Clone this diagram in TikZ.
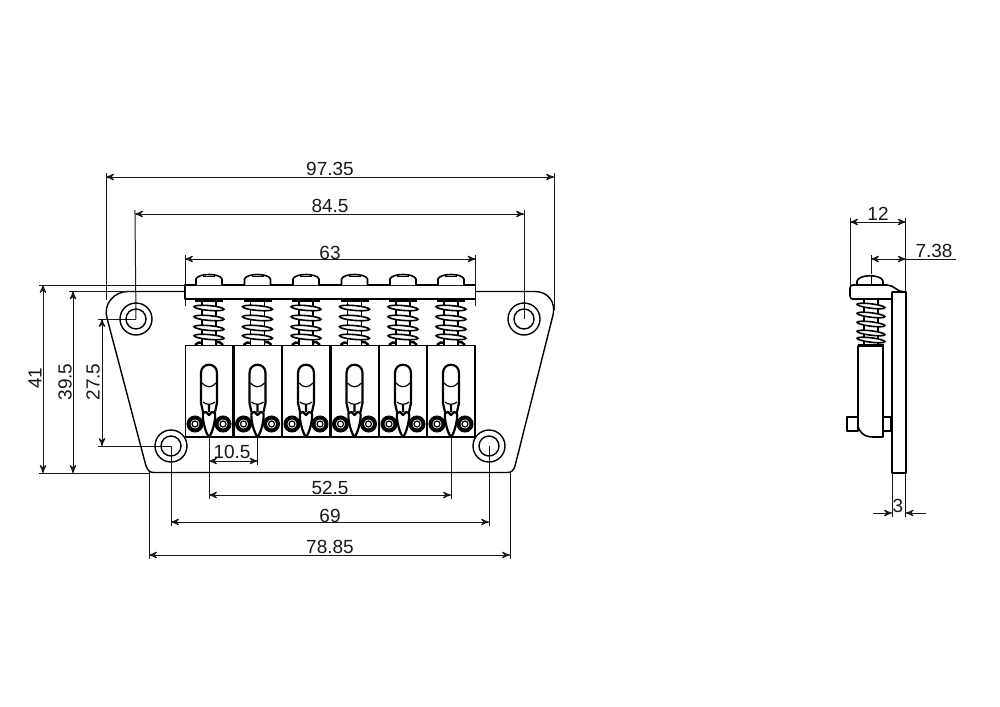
\documentclass[tikz,border=0pt]{standalone}
\usepackage{fontspec}
\setmainfont{Liberation Sans}
\usetikzlibrary{
        arrows,
        positioning
    }
\tikzset{>=stealth',x=0.5pt,y=-0.5pt}
\tikzset{part/.style={line width=0.8pt,line join=round,fill=white}}
\tikzset{thickpart/.style={line width=1.1pt,line join=round}}
\tikzset{dimline/.style={<->,line width=0.5pt,black!90}}
\tikzset{extline/.style={line width=0.5pt,black!90,shorten <=-2pt}}
\tikzset{dimlabel/.style={inner sep=0pt,font=\fontsize{9.5}{11}\selectfont,black!90}}
\tikzset{coil/.style={line width=0.8pt,fill=white}}

\begin{document}
\begin{tikzpicture}
        \useasboundingbox (0,0) rectangle (1000,706);
        % front view, plate and mounting holes
        \coordinate (holeTL) at (136,319);
        \coordinate (holeTR) at (524,319);
        \coordinate (holeBL) at (171,446);
        \coordinate (holeBR) at (489,446);
        \draw[part,line width=0.7pt] (128,291.5) -- (535,291.5) .. controls (548,291.5) and (556,302) .. (553,315)
            -- (515,466) .. controls (513.5,471) and (511,472.5) .. (507,472.5) -- (154,472.5)
            .. controls (150,472.5) and (148,471) .. (146,466) -- (107,318) .. controls (103,304) and (114,291.5) .. (128,291.5) -- cycle;
        \foreach \hole in {holeTL,holeTR,holeBL,holeBR}{
            \draw[line width=0.7pt] (\hole) circle[radius=16];
            \draw[line width=0.7pt] (\hole) circle[radius=10];
        }
        % bar
        \draw[part,line width=0.9pt] (185,285) rectangle (475.5,299);
        % six saddles
        \foreach \sx in {209,257.5,306,354.5,403,451}{
            \begin{scope}[shift={(\sx,0)}]
                % screw head
                \draw[part] (-13,285) -- (-13,279) .. controls (-11,273) and (11,273) .. (13,279) -- (13,285);
                \draw[line width=0.4pt] (-6,276) -- (6,276);
                % spring
                \draw[line width=0.6pt] (-7,300) -- (-7,345) (7,300) -- (7,345);
                \foreach \cy in {308,318,328,337}{
                    \draw[coil,rotate around={-5:(0,\cy)}] (0,\cy) ellipse[x radius=15,y radius=2.4];
                }
                \draw[line width=1.2pt] (-14,300.5) -- (14,300.5);
                \draw[line width=1.2pt] (-14,345) .. controls (-10,342) and (-10,342) .. (-7,343) (7,342) .. controls (10,341) and (12,343) .. (14,345);
                % saddle body
                \draw[part,fill=white] (-23.5,345.5) rectangle (24,437);
                % slot
                \draw[thickpart] (-8,403) -- (-8,373) .. controls (-8,362) and (8,362) .. (8,373) -- (8,403);
                \draw[line width=0.6pt] (-7,383) .. controls (-3,388) and (3,388) .. (7,383);
                \draw[line width=0.6pt] (-6,402) .. controls (-3,405) and (3,405) .. (6,402);
                \draw[thickpart] (-8,403) -- (-6,412) (8,403) -- (6,412) (0,404) -- (0,412);
                % spike
                \draw[thickpart,fill=white] (-6,413) -- (-3,412) -- (0,415) -- (3,412) -- (6,413) .. controls (7,420) and (3,434) .. (0,437) .. controls (-3,434) and (-7,420) .. (-6,413) -- cycle;
                % roller screws
                \foreach \rx in {-14,14}{
                    \draw[line width=2pt,fill=white] (\rx,424) circle[radius=6.5];
                    \draw[line width=0.6pt] (\rx,424) circle[radius=3];
                }
            \end{scope}
        }
        % dimensions above
        \coordinate (a97l) at (106,177);
        \coordinate (a97r) at (554,177);
        \coordinate (e97l) at (106,300);
        \coordinate (e97r) at (554,310);
        \coordinate (a84l) at (135,214);
        \coordinate (a84r) at (524,214);
        \coordinate (a63l) at (185,259);
        \coordinate (a63r) at (475.5,259);
        \coordinate (e63l) at (185,306);
        \coordinate (e63r) at (475.5,306);
        \draw[dimline] (a97l) -- (a97r);
        \draw[dimline] (a84l) -- (a84r);
        \draw[dimline] (a63l) -- (a63r);
        \draw[extline] (a97l) -- (e97l);
        \draw[extline] (a97r) -- (e97r);
        \draw[extline] (a84l) -- (holeTL);
        \draw[extline] (a84r) -- (holeTR);
        \draw[extline] (a63l) -- (e63l);
        \draw[extline] (a63r) -- (e63r);
        \node[dimlabel] (t97) at (330,169) {97.35};
        \node[dimlabel] (t84) at (330,206) {84.5};
        \node[dimlabel] (t63) at (330,253) {63};
        % dimensions left
        \coordinate (a41t) at (43,285);
        \coordinate (a41b) at (43,473);
        \coordinate (a39t) at (73,291.5);
        \coordinate (a39b) at (73,473);
        \coordinate (a27t) at (102,319);
        \coordinate (a27b) at (102,446);
        \coordinate (barTL) at (185,285);
        \coordinate (plateT) at (128,291.5);
        \coordinate (plateB) at (150,473);
        \draw[dimline] (a41t) -- (a41b);
        \draw[dimline] (a39t) -- (a39b);
        \draw[dimline] (a27t) -- (a27b);
        \draw[extline] (a41t) -- (barTL);
        \draw[extline] (a41b) -- (plateB);
        \draw[extline] (a39t) -- (plateT);
        \draw[extline] (a27t) -- (holeTL);
        \draw[extline] (a27b) -- (holeBL);
        \node[dimlabel,rotate=90] (t41) at (35,378) {41};
        \node[dimlabel,rotate=90] (t39) at (65,382) {39.5};
        \node[dimlabel,rotate=90] (t27) at (93,382) {27.5};
        % dimensions below
        \coordinate (a10l) at (209,461);
        \coordinate (a10r) at (257.5,461);
        \coordinate (a52l) at (209,495);
        \coordinate (a52r) at (451,495);
        \coordinate (a69l) at (171,522);
        \coordinate (a69r) at (489,522);
        \coordinate (a78l) at (149,555);
        \coordinate (a78r) at (510,555);
        \coordinate (s1) at (209,437);
        \coordinate (s2) at (257.5,437);
        \coordinate (s6) at (451,437);
        \coordinate (e78l) at (149,472);
        \coordinate (e78r) at (510,472);
        \draw[dimline] (a10l) -- (a10r);
        \draw[dimline] (a52l) -- (a52r);
        \draw[dimline] (a69l) -- (a69r);
        \draw[dimline] (a78l) -- (a78r);
        \draw[extline] (a52l) -- (s1);
        \draw[extline] (a10r) -- (s2);
        \draw[extline] (a52r) -- (s6);
        \draw[extline] (a69l) -- (holeBL);
        \draw[extline] (a69r) -- (holeBR);
        \draw[extline] (a78l) -- (e78l);
        \draw[extline] (a78r) -- (e78r);
        \node[dimlabel] (t10) at (232,452) {10.5};
        \node[dimlabel] (t52) at (330,488) {52.5};
        \node[dimlabel] (t69) at (330,516) {69};
        \node[dimlabel] (t78) at (330,547) {78.85};
        % side view
        \draw[part] (892,292) rectangle (905.7,473);
        \draw[part] (857,285) -- (857,281) .. controls (859,274) and (881,274) .. (883,281) -- (883,285);
        \draw[line width=0.4pt] (871,275) -- (871,285);
        \draw[part] (853,285) -- (887,285) .. controls (894,285) and (897,292) .. (904,292) -- (892,292) -- (892,299) -- (853,299) .. controls (851,299) and (850,298) .. (850,296) -- (850,288) .. controls (850,286) and (851,285) .. (853,285) -- cycle;
        \draw[line width=0.6pt] (864,300) -- (864,345) (878,300) -- (878,345);
        \foreach \cy in {306,315,324,333,340}{
            \draw[coil,rotate around={-7:(871,\cy)}] (871,\cy) ellipse[x radius=14,y radius=2.2];
        }
        \draw[line width=1.2pt] (858,345) -- (884,345);
        \draw[part] (847,417) rectangle (858,431);
        \draw[part] (883,417) rectangle (891,431);
        \draw[part] (858,346) -- (883,346) -- (883,437) -- (873,437) .. controls (864,437) and (858,432) .. (858,424) -- cycle;
        % side view dimensions
        \coordinate (a12l) at (850,222);
        \coordinate (a12r) at (905.7,222);
        \coordinate (e12l) at (850,285);
        \coordinate (e12r) at (905.7,292);
        \coordinate (a7l) at (871,259);
        \coordinate (a7r) at (905.7,259);
        \coordinate (a7e) at (956,259);
        \coordinate (e7l) at (871,274);
        \coordinate (a3l) at (892,513);
        \coordinate (a3r) at (905.7,513);
        \coordinate (o3l) at (873,513);
        \coordinate (o3r) at (926,513);
        \coordinate (p3l) at (892,473);
        \coordinate (p3r) at (905.7,473);
        \draw[dimline] (a12l) -- (a12r);
        \draw[extline] (a12l) -- (e12l);
        \draw[extline] (a12r) -- (e12r);
        \draw[dimline] (a7l) -- (a7r);
        \draw[line width=0.5pt,black!90] (a7r) -- (a7e);
        \draw[extline] (a7l) -- (e7l);
        \draw[extline] (a3l) -- (p3l);
        \draw[extline] (a3r) -- (p3r);
        \draw[->,line width=0.5pt,black!90] (o3l) -- (a3l);
        \draw[->,line width=0.5pt,black!90] (o3r) -- (a3r);
        \node[dimlabel] (t12) at (878,214) {12};
        \node[dimlabel] (t7) at (934,251) {7.38};
        \node[dimlabel] (t3) at (898,506) {3};
\end{tikzpicture}
\end{document}
